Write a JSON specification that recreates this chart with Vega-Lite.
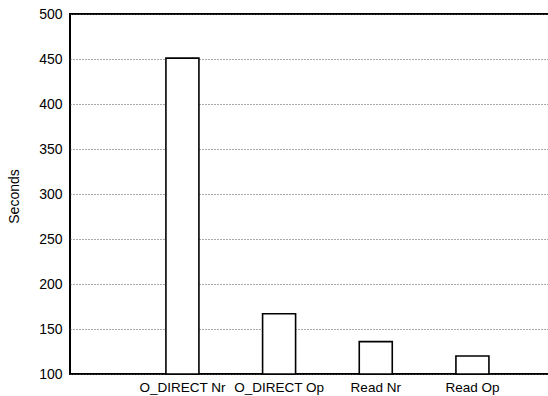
{
  "$schema": "https://vega.github.io/schema/vega-lite/v6.json",
  "width": 480,
  "height": 360,
  "autosize": {"type": "none"},
  "padding": {"left": 70, "top": 14, "right": 0, "bottom": 22},
  "background": "white",
  "config": {
    "view": {"stroke": "black", "strokeWidth": 2},
    "font": "Liberation Sans"
  },
  "data": {
    "values": [
      {"case": "O_DIRECT Nr", "seconds": 451},
      {"case": "O_DIRECT Op", "seconds": 167},
      {"case": "Read Nr", "seconds": 136},
      {"case": "Read Op", "seconds": 120}
    ]
  },
  "mark": {"type": "bar", "fill": "white", "stroke": "black", "strokeWidth": 1.6},
  "encoding": {
    "x": {
      "field": "case",
      "type": "nominal",
      "sort": null,
      "scale": {"paddingInner": 0.6586, "paddingOuter": 0.812, "align": 0.611, "round": false},
      "axis": {
        "title": null,
        "labelAngle": 0,
        "domain": false,
        "ticks": false,
        "labelFontSize": 13.5,
        "labelColor": "black",
        "labelPadding": 6,
        "labelDx": -3,
        "labelFont": "Liberation Sans"
      }
    },
    "y": {
      "field": "seconds",
      "type": "quantitative",
      "scale": {"domain": [100, 500], "nice": false, "zero": false},
      "axis": {
        "title": "Seconds",
        "values": [100, 150, 200, 250, 300, 350, 400, 450, 500],
        "domain": false,
        "ticks": false,
        "grid": true,
        "gridColor": "#555555",
        "gridDash": [1, 2],
        "gridWidth": 1,
        "labelFontSize": 14,
        "labelColor": "black",
        "labelPadding": 8,
        "labelFont": "Liberation Sans",
        "titleFontSize": 14,
        "titleFontWeight": "normal",
        "titleColor": "black",
        "titleFont": "Liberation Sans",
        "titleX": -49,
        "titleY": 182
      }
    },
    "y2": {"datum": 100}
  }
}
